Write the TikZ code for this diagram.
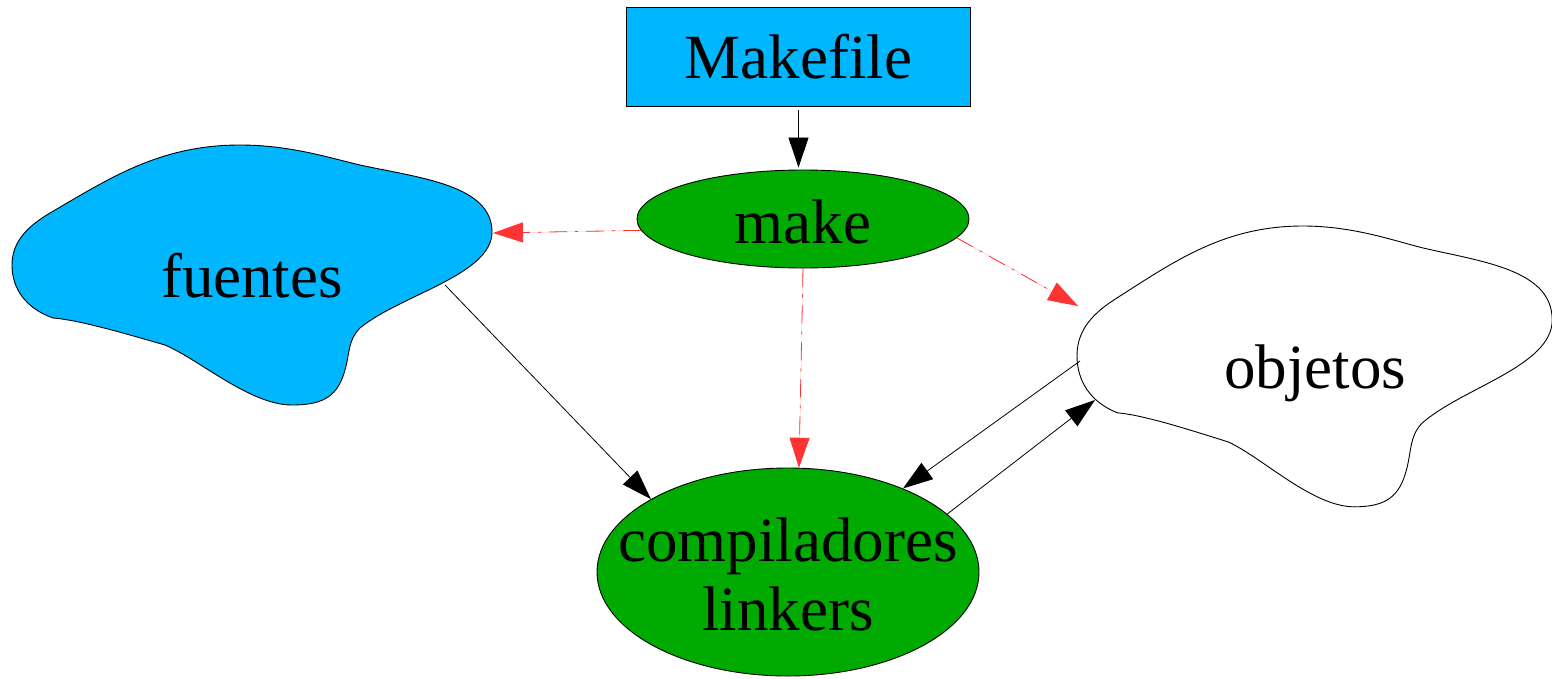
\documentclass[tikz,border=0pt]{standalone}
\usepackage{fontspec}
\setmainfont{Liberation Serif}
\usetikzlibrary{arrows.meta,shapes.geometric}
\definecolor{skyb}{RGB}{0,183,255}
\definecolor{grn}{RGB}{0,170,0}
\definecolor{redd}{RGB}{255,51,51}
\begin{document}
\begin{tikzpicture}[x=1pt,y=-1pt,
  lbl/.style={font=\fontsize{63}{70}\selectfont, inner sep=0pt},
  conn/.style={line width=0.8pt, -{Triangle[length=30pt,width=20pt]}},
  redc/.style={conn, draw=redd, fill=redd, dash pattern=on 18pt off 8pt on 3pt off 8pt},
  blobline/.style={line width=0.9pt, draw=black},
  ell/.style={ellipse, draw=black, line width=0.9pt, fill=grn, inner sep=0pt}]
\useasboundingbox (0,0) rectangle (1552,678);

% fuentes blob
\draw[blobline, fill=skyb]
  (53,318) .. controls (25,308) and (12,288) .. (12,265)
  .. controls (12,240) and (30,225) .. (50,213)
  .. controls (110,178) and (160,145) .. (240,145)
  .. controls (290,145) and (330,158) .. (360,165)
  .. controls (420,178) and (492,185) .. (492,232)
  .. controls (492,275) and (400,295) .. (360,328)
  .. controls (348,340) and (350,352) .. (345,370)
  .. controls (338,395) and (325,405) .. (292,405)
  .. controls (250,405) and (200,360) .. (165,345)
  .. controls (130,335) and (80,320) .. (53,318) -- cycle;

% objetos blob
\begin{scope}[shift={(1077,226)}, xscale=0.99, yscale=1.08, shift={(-12,-145)}]
\draw[blobline, fill=white]
  (53,318) .. controls (25,308) and (12,288) .. (12,265)
  .. controls (12,240) and (30,225) .. (50,213)
  .. controls (110,178) and (160,145) .. (240,145)
  .. controls (290,145) and (330,158) .. (360,165)
  .. controls (420,178) and (492,185) .. (492,232)
  .. controls (492,275) and (400,295) .. (360,328)
  .. controls (348,340) and (350,352) .. (345,370)
  .. controls (338,395) and (325,405) .. (292,405)
  .. controls (250,405) and (200,360) .. (165,345)
  .. controls (130,335) and (80,320) .. (53,318) -- cycle;
\end{scope}

% nodes
\node[draw=black, line width=0.9pt, fill=skyb, minimum width=344pt, minimum height=99pt, inner sep=0pt,
      lbl] (makefile) at (798.5,57) {Makefile};
\node[ell, minimum width=332pt, minimum height=98pt] (make) at (803,219) {};
\node[lbl, anchor=base] (maketxt) at (803,243) {make};
\node[ell, minimum width=382pt, minimum height=208pt] (comp) at (788,572) {};
\node[lbl, anchor=base] (comptxt) at (788,561) {compiladores};
\node[lbl, anchor=base] (linktxt) at (788,630) {linkers};
\node[lbl, anchor=base] (fuentes) at (252,297) {fuentes};
\node[lbl, anchor=base] (objetos) at (1315,388) {objetos};

% blob anchor points
\coordinate (fA) at (493,233);
\coordinate (fB) at (445,285);
\coordinate (oA) at (1078,306);
\coordinate (oB) at (1080,361);
\coordinate (oC) at (1095,400);

% connectors
\draw[conn, shorten <=3pt, shorten >=2pt] (makefile.south) -- (make.north -| makefile.south);
\draw[redc] (make.184) -- (fA);
\draw[redc] (make.south) -- (comp.84.5);
\draw[redc] (make.353) -- (oA);
\draw[conn] (fB) -- (comp.152.8);
\draw[conn] (oB) -- (comp.36.2);
\draw[conn] (comp.20.2) -- (oC);
\end{tikzpicture}
\end{document}
